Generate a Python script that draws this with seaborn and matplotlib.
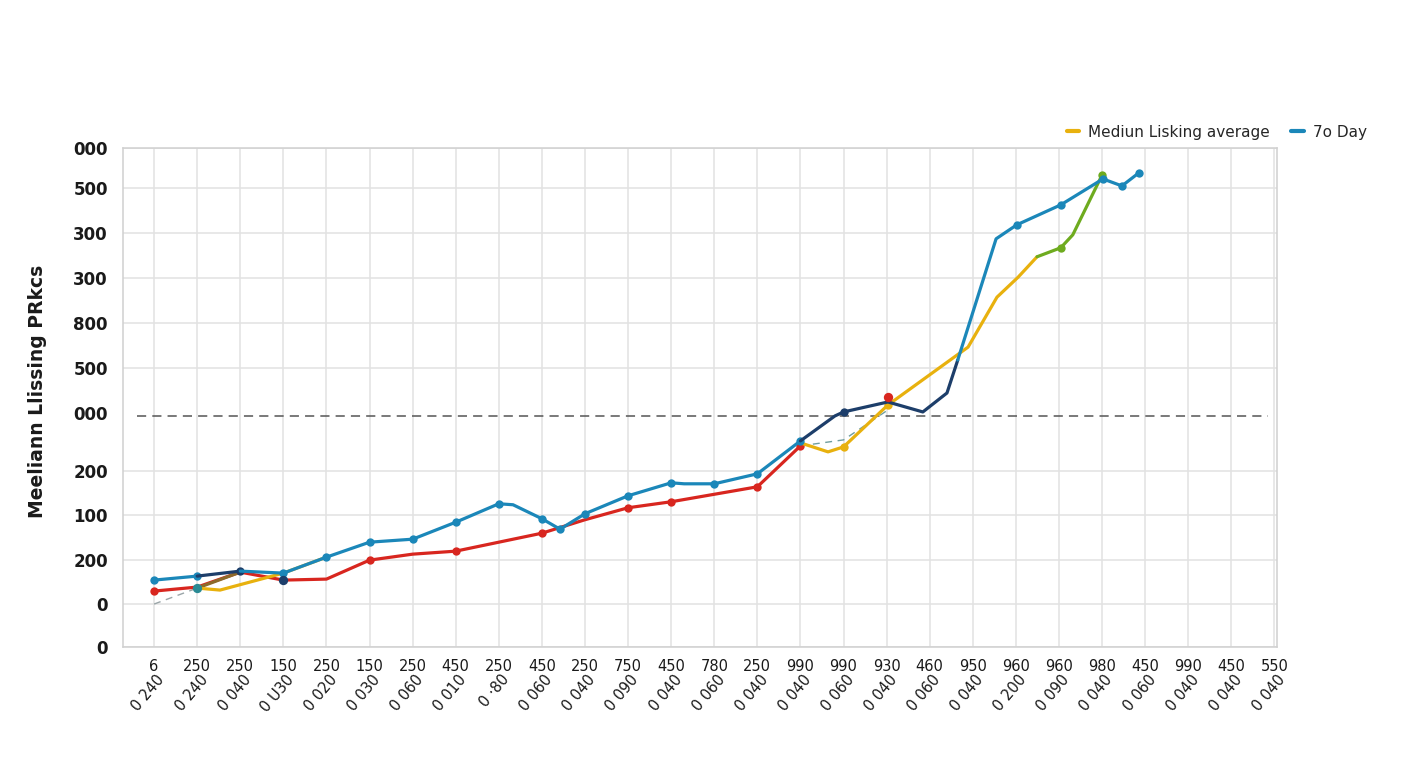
import matplotlib
matplotlib.use("Agg")
import matplotlib.pyplot as plt
import seaborn as sns
from matplotlib.lines import Line2D

sns.set_theme(style="white")
plt.rcParams['font.family'] = ['DejaVu Sans']

# ---------------- data ----------------
x_top_labels = ["6", "250", "250", "150", "250", "150", "250", "450", "250", "450", "250", "750", "450",
                "780", "250", "990", "990", "930", "460", "950", "960", "960", "980", "450", "990", "450", "550"]
x_bottom_labels = ["0 240", "0 240", "0 040", "0 U30", "0 020", "0 030", "0 060", "0 010", "0 ·80", "0 060",
                   "0 040", "0 090", "0 040", "0 060", "0 040", "0 040", "0 060", "0 040", "0 060", "0 040",
                   "0 200", "0 090", "0 040", "0 060", "0 040", "0 040", "0 040"]
y_tick_values = [0, 8.6, 17.4, 26.5, 35.3, 46.9, 55.9, 64.9, 73.9, 83.0, 92.0, 100]
y_tick_labels = ["0", "0", "200", "100", "200", "000", "500", "800", "300", "300", "500", "000"]
reference_level = 46.3

red_x = [0, 1, 2, 3, 4, 5, 6, 7, 9, 10, 11, 12, 14, 15]
red_y = [11.2, 12.0, 15.0, 13.4, 13.6, 17.4, 18.6, 19.2, 22.8, 25.5, 27.9, 29.1, 32.1, 40.3]
red_extra_x = [17.03]
red_extra_y = [50.1]

blue_low_x = [0, 1]
blue_low_y = [13.4, 14.2]
navy_low_x = [1, 2]
navy_low_y = [14.2, 15.2]
blue_mid_x = [2, 3, 4, 5, 6, 7, 8, 8.33, 9, 9.42, 10, 11, 12, 12.3, 13, 14, 15]
blue_mid_y = [15.2, 14.8, 18.0, 21.0, 21.6, 25.0, 28.7, 28.5, 25.7, 23.6, 26.7, 30.3, 32.9, 32.7, 32.7, 34.7, 41.3]
navy_up_x = [15, 15.8, 16, 17.03, 17.84, 18.4, 18.65]
navy_up_y = [41.3, 46.3, 47.1, 49.1, 47.1, 50.9, 57.5]
blue_up_x = [18.65, 19.54, 20.02, 21.04, 22.02, 22.46, 22.85]
blue_up_y = [57.5, 81.8, 84.6, 88.6, 93.8, 92.4, 95.0]

yellow_low_x = [1, 1.53, 3, 4]
yellow_low_y = [11.8, 11.4, 14.8, 18.0]
olive_x = [1, 2]
olive_y = [11.8, 15.0]
yellow_up_x = [15, 15.64, 16, 17.03, 18.89, 19.56, 20.05, 20.49]
yellow_up_y = [40.9, 39.1, 40.1, 48.5, 60.1, 70.1, 74.1, 78.2]
green_x = [20.49, 21.04, 21.32, 22.0]
green_y = [78.2, 80.0, 82.6, 94.6]

dash_a_x = [0, 1]
dash_a_y = [8.6, 11.8]
dash_b_x = [15, 16, 17.03]
dash_b_y = [40.3, 41.5, 47.5]

series_names = ["Mediun Lisking average", "7o Day"]

# ---------------- style ----------------
RED = "#d8261f"
BLUE = "#1b87b9"
NAVY = "#1d3e6a"
YELLOW = "#e8b10e"
GREEN = "#6eab1f"
OLIVE = "#8d6b2b"
TEAL = "#2a8a94"
GRID = "#e2e2e2"

fig = plt.figure(figsize=(14.08, 7.68), dpi=100)
ax = fig.add_axes([0.0874, 0.1576, 0.8196, 0.6497])

lw = 2.3
ms = 6


def line(x, y, color, lw=lw, markevery=None, ls="-", z=3, marker="o"):
    kw = dict(x=x, y=y, ax=ax, color=color, linewidth=lw, sort=False, estimator=None,
              linestyle=ls, zorder=z)
    if markevery is not None:
        kw.update(marker=marker, markersize=ms, markevery=markevery, markeredgewidth=0)
    sns.lineplot(**kw)


# thin dashed helper lines
line(dash_a_x, dash_a_y, "#9aa5a8", lw=1.0, ls=(0, (5, 4)), z=2)
line(dash_b_x, dash_b_y, "#6f9ea0", lw=1.0, ls=(0, (5, 4)), z=2)

# reference dashed line
ax.plot([-0.39, 25.85], [reference_level, reference_level], color="#555555", lw=1.1,
        linestyle=(0, (6, 4)), zorder=2)

line(red_x, red_y, RED, markevery=[0, 5, 7, 8, 10, 11, 12, 13], z=3)
line(olive_x, olive_y, OLIVE, z=3)
line(yellow_low_x, yellow_low_y, YELLOW, z=3)
line(yellow_up_x, yellow_up_y, YELLOW, markevery=[2, 3], z=4)
line(green_x, green_y, GREEN, markevery=[1, 3], z=4)
line(blue_low_x, blue_low_y, BLUE, markevery=[0, 1], z=5)
line(navy_low_x, navy_low_y, NAVY, markevery=[1], z=5)
line(blue_mid_x, blue_mid_y, BLUE, markevery=[1, 2, 3, 4, 5, 6, 8, 9, 10, 11, 12, 14, 15, 16], z=5)
line(navy_up_x, navy_up_y, NAVY, markevery=[2], z=5)
line(blue_up_x, blue_up_y, BLUE, markevery=[2, 3, 4, 5, 6], z=5)

# highlight markers
ax.scatter(red_extra_x, red_extra_y, s=45, color=RED, zorder=6, linewidths=0)
ax.scatter([yellow_low_x[0]], [yellow_low_y[0]], s=45, color=TEAL, zorder=6, linewidths=0)
ax.scatter([red_x[3]], [red_y[3]], s=45, color=NAVY, zorder=6, linewidths=0)

# ---------------- axes ----------------
ax.set_xlim(-0.72, 26.06)
ax.set_ylim(0, 100)
ax.set_xticks(range(len(x_top_labels)))
ax.set_xticklabels(x_top_labels, fontsize=10.5, color="#1a1a1a")
ax.set_yticks(y_tick_values)
ax.set_yticklabels(y_tick_labels, fontsize=12, fontweight="semibold", color="#1a1a1a")
ax.tick_params(axis="both", length=0)
ax.tick_params(axis="x", pad=9)
ax.tick_params(axis="y", pad=11)
minor = [(a + b) / 2 for a, b in zip(y_tick_values[:-1], y_tick_values[1:])]
ax.set_yticks(minor, minor=True)
ax.tick_params(axis="y", which="minor", length=3, color="#c8c8c8", width=1)
ax.grid(True, which="major", color=GRID, linewidth=1.1)
ax.set_axisbelow(True)
ax.get_ygridlines()[5].set_visible(False)
for s in ax.spines.values():
    s.set_color("#d0d0d0")
    s.set_linewidth(1.1)
ax.set_xlabel("")
ax.set_ylabel("")

for i, lab in enumerate(x_bottom_labels):
    ax.text(i + 0.05, -0.05, lab, transform=ax.get_xaxis_transform(), rotation=50,
            rotation_mode="anchor", ha="right", va="top", fontsize=10.5, color="#1a1a1a")

fig.text(0.0265, 0.49, "Meeliann Llissing PRkcs", rotation=90, ha="center", va="center",
         fontsize=13.5, fontweight="bold", color="#1a1a1a")

handles = [Line2D([0], [0], color=YELLOW, lw=3), Line2D([0], [0], color=BLUE, lw=3)]
fig.legend(handles, series_names, loc="center left", bbox_to_anchor=(0.748, 0.828), ncol=2,
           frameon=False, handlelength=0.8, handletextpad=0.6, columnspacing=1.4,
           prop={"size": 11})

fig.savefig("out.png", dpi=100, facecolor="white")
